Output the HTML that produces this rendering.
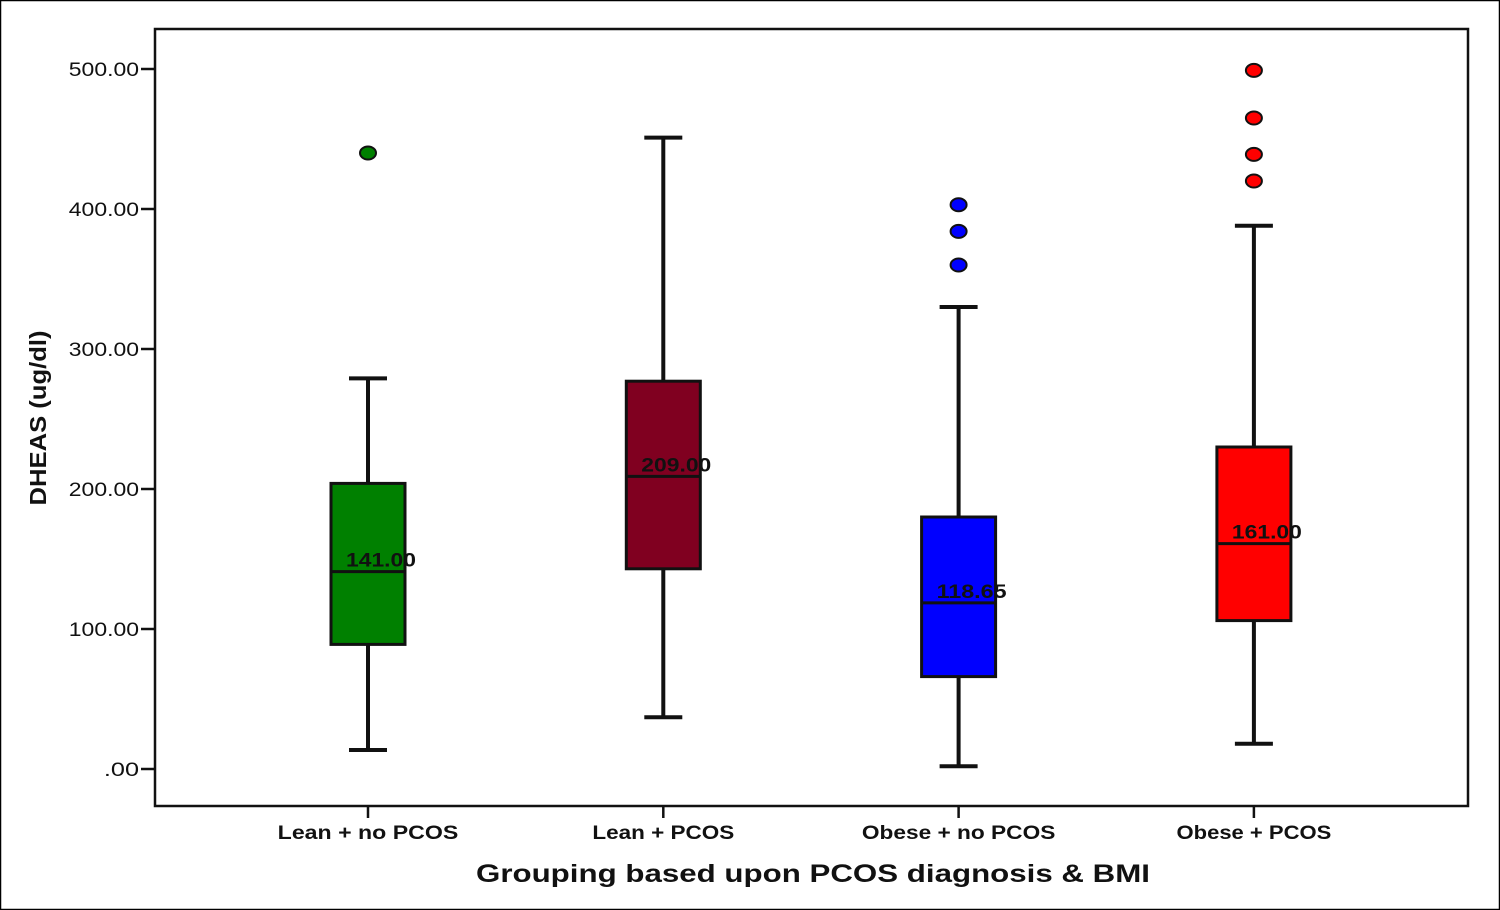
<!DOCTYPE html>
<html><head><meta charset="utf-8"><style>
html,body{margin:0;padding:0;background:#fff}
svg{display:block}
text{font-family:"Liberation Sans",sans-serif;fill:#111}
</style></head><body>
<svg id="chart" width="1500" height="910" viewBox="0 0 1500 910">
<rect x="0.5" y="0.5" width="1499" height="909" fill="#fff" stroke="#000" stroke-width="1.5"/>
<rect x="155" y="29" width="1313" height="777" fill="#fff" stroke="#111" stroke-width="2.5"/>
<g id="yaxis"></g>
<g id="xaxis"></g>
<g id="boxes"></g>
<text x="46" y="418" transform="rotate(-90 46 418)" text-anchor="middle" font-size="23" font-weight="bold" textLength="175" lengthAdjust="spacingAndGlyphs">DHEAS (ug/dl)</text>
<text x="813" y="882" text-anchor="middle" font-size="25" font-weight="bold" textLength="674" lengthAdjust="spacingAndGlyphs">Grouping based upon PCOS diagnosis &amp; BMI</text>
</svg>
<script>
const categories = ["Lean + no PCOS","Lean + PCOS","Obese + no PCOS","Obese + PCOS"];
const whiskerLow = [13.6, 37, 2, 18];
const q1 = [89, 143, 66, 106];
const medians = [141, 209, 118.65, 161];
const q3 = [204, 277, 180, 230];
const whiskerHigh = [279, 451, 330, 388];
const outliers = [[440], [], [403, 384, 360], [499, 465, 439, 420]];
const colors = ["#008000","#800020","#0000ff","#ff0000"];
const yTicks = [0,100,200,300,400,500];
const yTickLabels = [".00","100.00","200.00","300.00","400.00","500.00"];

const NS="http://www.w3.org/2000/svg";
const y = v => 769 - v*1.4;
const x = i => 368 + i*295.3;
function mk(tag, attrs, parent){const e=document.createElementNS(NS,tag);for(const k in attrs)e.setAttribute(k,attrs[k]);parent.appendChild(e);return e;}
const ya=document.getElementById('yaxis'), xa=document.getElementById('xaxis'), bx=document.getElementById('boxes');
yTicks.forEach((t,i)=>{
  const l=mk('line',{x1:141,x2:155,y1:y(t),y2:y(t),stroke:'#111','stroke-width':2.5},ya);
  
  
  const tx=mk('text',{x:139,y:y(t)+7,'text-anchor':'end','font-size':19},ya);
  tx.textContent=yTickLabels[i];
  tx.setAttribute('textLength', String(yTickLabels[i].length*11.7));
  tx.setAttribute('lengthAdjust','spacingAndGlyphs');
  
  
});
categories.forEach((c,i)=>{
  const cx=x(i);
  const l=mk('line',{x1:cx,x2:cx,y1:806,y2:818,stroke:'#111','stroke-width':2.5},xa);
  
  
  const tx=mk('text',{x:cx,y:839,'text-anchor':'middle','font-size':19,'font-weight':'bold'},xa);
  tx.textContent=c;
  tx.setAttribute('textLength', String(c.length*12.9));
  tx.setAttribute('lengthAdjust','spacingAndGlyphs');
  
  
  const g=mk('g',{},bx);
  
  
  mk('line',{x1:cx,x2:cx,y1:y(whiskerLow[i]),y2:y(whiskerHigh[i]),stroke:'#111','stroke-width':4},g);
  mk('line',{x1:cx-19,x2:cx+19,y1:y(whiskerLow[i]),y2:y(whiskerLow[i]),stroke:'#111','stroke-width':4},g);
  mk('line',{x1:cx-19,x2:cx+19,y1:y(whiskerHigh[i]),y2:y(whiskerHigh[i]),stroke:'#111','stroke-width':4},g);
  const r=mk('rect',{x:cx-37,y:y(q3[i]),width:74,height:y(q1[i])-y(q3[i]),fill:colors[i],stroke:'#111','stroke-width':3},g);
  
  
  const m=mk('line',{x1:cx-37,x2:cx+37,y1:y(medians[i]),y2:y(medians[i]),stroke:'#111','stroke-width':3},g);
  
  
  const mt=mk('text',{x:cx+13,y:y(medians[i])-5,'text-anchor':'middle','font-size':19,'font-weight':'bold',textLength:70,lengthAdjust:'spacingAndGlyphs'},g);
  mt.textContent=medians[i].toFixed(2);
  
  
  outliers[i].forEach(v=>{
    const o=mk('ellipse',{cx:cx,cy:y(v),rx:8,ry:6.5,fill:colors[i],stroke:'#111','stroke-width':2},g);
    
    
  });
});
</script>
</body></html>
